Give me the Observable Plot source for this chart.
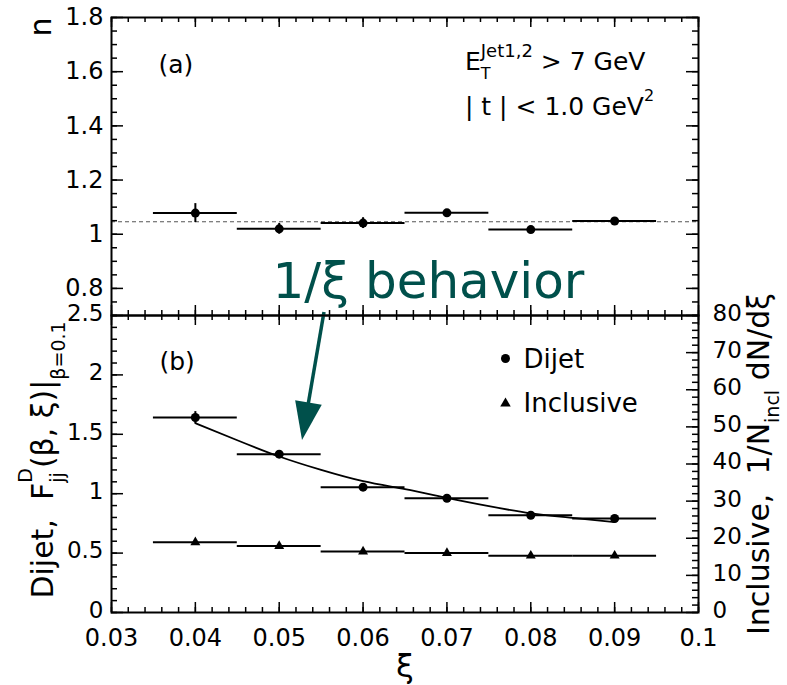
<!DOCTYPE html>
<html>
<head>
<meta charset="utf-8">
<script src="https://cdn.jsdelivr.net/npm/d3@7"></script>
<script src="https://cdn.jsdelivr.net/npm/@observablehq/plot@0.6"></script>
<style>
  body { margin: 0; background: #fff; }
  #wrap { position: relative; width: 787px; height: 685px; overflow: hidden; background: #fff; }
  #wrap svg { position: absolute; left: 0; top: 0; overflow: visible; }
</style>
</head>
<body>
<div id="wrap"></div>
<script>
// ---------------- data ----------------
const xi = [0.04, 0.05, 0.06, 0.07, 0.08, 0.09];
const binHalfWidth = 0.005;
// panel (a): exponent n
const nValues = [1.078, 1.020, 1.041, 1.079, 1.017, 1.049];
const nErrors = [0.035, 0.020, 0.020, 0.012, 0.012, 0.010];
const nMean = 1.046;
// panel (b): dijet F_jj^D (left axis)
const dijet = [1.641, 1.333, 1.055, 0.962, 0.819, 0.791];
const dijetErr = [0.05, 0.03, 0.03, 0.02, 0.02, 0.02];
// panel (b): inclusive 1/N dN/dxi (right axis units)
const inclusive = [18.9, 17.9, 16.4, 16.0, 15.3, 15.3];
// 1/xi-like fit curve
const fitXi = [0.04, 0.045, 0.05, 0.055, 0.06, 0.065, 0.07, 0.075, 0.08, 0.085, 0.09];
const fitF  = [1.594, 1.45, 1.313, 1.20, 1.105, 1.038, 0.965, 0.895, 0.835, 0.797, 0.760];
// axes
const xDomain = [0.03, 0.1];
const xTicks = [0.03, 0.04, 0.05, 0.06, 0.07, 0.08, 0.09, 0.1];
const xTickLabels = ["0.03", "0.04", "0.05", "0.06", "0.07", "0.08", "0.09", "0.1"];
const nDomain = [0.7, 1.8];
const nTicks = [0.8, 1.0, 1.2, 1.4, 1.6, 1.8];
const nTickLabels = ["0.8", "1", "1.2", "1.4", "1.6", "1.8"];
const fDomain = [0, 2.5];
const fTicks = [0, 0.5, 1, 1.5, 2, 2.5];
const fTickLabels = ["0", "0.5", "1", "1.5", "2", "2.5"];
const rightMax = 80;
const rightTicks = [0, 10, 20, 30, 40, 50, 60, 70, 80];
const rightTickLabels = ["0", "10", "20", "30", "40", "50", "60", "70", "80"];
// annotation arrow (data coordinates of panel b)
const arrowFrom = [0.0554, 2.525];
const arrowTo = [0.05278, 1.448];

// ---------------- helpers ----------------
const FONT = "DejaVu Sans";
const TEAL = "#00504b";
const W = 787, mL = 111, mR = 89;
const frameW = W - mL - mR;
const toLeft = v => v * fDomain[1] / rightMax;

const topRows = xi.map((x, i) => ({xi: x, n: nValues[i], e: nErrors[i]}));
const botRows = xi.map((x, i) => ({xi: x, f: dijet[i], e: dijetErr[i], inc: toLeft(inclusive[i])}));
const fitRows = fitXi.map((x, i) => ({xi: x, f: fitF[i]}));

const xMinor = d3.range(15, 51).map(i => +(i * 0.002).toFixed(4));
const nMinor = d3.range(14, 37).map(i => +(i * 0.05).toFixed(3));
const fMinor = d3.range(0, 26).map(i => +(i * 0.1).toFixed(2));
const rMinor = d3.range(0, 41).map(i => i * 2);

function tickMarks(frameH, yMajor, yMinor, rightMajor, rightMinor) {
  const sw = 1.5;
  return [
    Plot.tickX(xTicks, {x: d => d, insetBottom: frameH - 10, strokeWidth: sw}),
    Plot.tickX(xMinor, {x: d => d, insetBottom: frameH - 5, strokeWidth: sw}),
    Plot.tickX(xTicks, {x: d => d, insetTop: frameH - 10, strokeWidth: sw}),
    Plot.tickX(xMinor, {x: d => d, insetTop: frameH - 5, strokeWidth: sw}),
    Plot.tickY(yMajor, {y: d => d, insetRight: frameW - 12, strokeWidth: sw}),
    Plot.tickY(yMinor, {y: d => d, insetRight: frameW - 6, strokeWidth: sw}),
    Plot.tickY(rightMajor, {y: d => d, insetLeft: frameW - 12, strokeWidth: sw}),
    Plot.tickY(rightMinor, {y: d => d, insetLeft: frameW - 6, strokeWidth: sw})
  ];
}

function arrowMark(index, scales) {
  const sx = scales.x, sy = scales.y;
  const x1 = sx(arrowFrom[0]), y1 = sy(arrowFrom[1]);
  const x2 = sx(arrowTo[0]), y2 = sy(arrowTo[1]);
  const dx = x2 - x1, dy = y2 - y1, L = Math.hypot(dx, dy);
  const ux = dx / L, uy = dy / L, px = -uy, py = ux;
  const headLen = 38, headW = 13.5;
  const bx = x2 - ux * headLen, by = y2 - uy * headLen;
  const g = d3.create("svg:g");
  g.append("line").attr("x1", x1).attr("y1", y1).attr("x2", bx + ux * 4).attr("y2", by + uy * 4)
    .attr("stroke", TEAL).attr("stroke-width", 3.5);
  g.append("path")
    .attr("d", `M${x2},${y2}L${bx + px * headW},${by + py * headW}L${bx - px * headW},${by - py * headW}Z`)
    .attr("fill", TEAL);
  return g.node();
}

const wrap = document.getElementById("wrap");

// ---------------- panel (b) (full page svg) ----------------
const botTop = 315, botBottom = 612;
const bottomSvg = Plot.plot({
  width: W, height: 685,
  marginLeft: mL, marginRight: mR, marginTop: botTop, marginBottom: 685 - botBottom,
  x: {domain: xDomain, axis: null},
  y: {domain: fDomain, axis: null},
  style: {fontFamily: FONT, background: "white", overflow: "visible"},
  marks: [
    Plot.ruleY(botRows, {x1: d => d.xi - binHalfWidth, x2: d => d.xi + binHalfWidth, y: "inc", strokeWidth: 2}),
    Plot.ruleY(botRows, {x1: d => d.xi - binHalfWidth, x2: d => d.xi + binHalfWidth, y: "f", strokeWidth: 2}),
    Plot.ruleX(botRows, {x: "xi", y1: d => d.f - d.e, y2: d => d.f + d.e, strokeWidth: 2}),
    Plot.line(fitRows, {x: "xi", y: "f", curve: "natural", strokeWidth: 1.8, stroke: "black"}),
    Plot.dot(botRows, {x: "xi", y: "f", r: 4.5, fill: "black"}),
    Plot.dot(botRows, {x: "xi", y: "inc", r: 3.7, symbol: "triangle", fill: "black"}),
    ...tickMarks(botBottom - botTop, fTicks, fMinor, rightTicks.map(toLeft), rMinor.map(toLeft)),
    Plot.frame({strokeWidth: 2}),
    Plot.text(xTicks, {x: d => d, frameAnchor: "bottom", dy: 26, text: (d, i) => xTickLabels[i], fontSize: 24, lineAnchor: "middle"}),
    Plot.text(fTicks, {y: d => d, frameAnchor: "left", dx: -8, dy: -2, textAnchor: "end", text: (d, i) => fTickLabels[i], fontSize: 23, lineAnchor: "middle"}),
    Plot.text(rightTicks, {y: d => toLeft(d), frameAnchor: "right", dx: 14, dy: -2, textAnchor: "start", text: (d, i) => rightTickLabels[i], fontSize: 23, lineAnchor: "middle"}),
    Plot.text(["ξ"], {frameAnchor: "bottom", dy: 54, fontSize: 32, lineAnchor: "middle"}),
    Plot.text(["(b)"], {frameAnchor: "top-left", dx: 48, dy: 46, textAnchor: "start", fontSize: 25, lineAnchor: "middle"}),
    Plot.dot(["Dijet"], {frameAnchor: "top-left", dx: 394, dy: 43, r: 4.5, fill: "black"}),
    Plot.dot(["Inclusive"], {frameAnchor: "top-left", dx: 394, dy: 88, r: 3.9, symbol: "triangle", fill: "black"}),
    Plot.text(["Dijet"], {frameAnchor: "top-left", dx: 412, dy: 44.5, textAnchor: "start", fontSize: 26, lineAnchor: "middle"}),
    Plot.text(["Inclusive"], {frameAnchor: "top-left", dx: 412, dy: 88.5, textAnchor: "start", fontSize: 26, lineAnchor: "middle"}),
    arrowMark
  ]
});
wrap.appendChild(bottomSvg);

// ---------------- panel (a) (overlay svg) ----------------
const topTop = 17;
const topSvg = Plot.plot({
  width: W, height: 330,
  marginLeft: mL, marginRight: mR, marginTop: topTop, marginBottom: 330 - botTop,
  x: {domain: xDomain, axis: null},
  y: {domain: nDomain, axis: null},
  style: {fontFamily: FONT, background: "transparent", overflow: "visible"},
  marks: [
    Plot.ruleY([nMean], {stroke: "#555", strokeWidth: 1.2, strokeDasharray: "4,3"}),
    Plot.ruleY(topRows, {x1: d => d.xi - binHalfWidth, x2: d => d.xi + binHalfWidth, y: "n", strokeWidth: 2}),
    Plot.ruleX(topRows, {x: "xi", y1: d => d.n - d.e, y2: d => d.n + d.e, strokeWidth: 2}),
    Plot.dot(topRows, {x: "xi", y: "n", r: 4.5, fill: "black"}),
    ...tickMarks(botTop - topTop, nTicks, nMinor, nTicks, nMinor),
    Plot.frame({strokeWidth: 2}),
    Plot.text(nTicks, {y: d => d, frameAnchor: "left", dx: -8, textAnchor: "end", text: (d, i) => nTickLabels[i], fontSize: 24, lineAnchor: "middle"}),
    Plot.text(["n"], {frameAnchor: "top-left", dx: -70, dy: 0, rotate: -90, textAnchor: "end", fontSize: 30, lineAnchor: "middle"}),
    Plot.text(["(a)"], {frameAnchor: "top-left", dx: 47, dy: 47, textAnchor: "start", fontSize: 25, lineAnchor: "middle"}),
    Plot.text(["1/ξ behavior"], {frameAnchor: "top-left", dx: 161, dy: 264, textAnchor: "start", fontSize: 50, lineAnchor: "middle", fill: TEAL})
  ]
});
wrap.appendChild(topSvg);

// ---------------- rich text labels (super/subscripts) ----------------
function richText(svg, {x, y, rotate = 0, anchor = "start", size, parts}) {
  const t = d3.select(svg).append("text")
    .attr("transform", `translate(${x},${y}) rotate(${rotate})`)
    .attr("text-anchor", anchor)
    .attr("font-family", FONT)
    .attr("font-size", size)
    .attr("fill", "black")
    .style("white-space", "pre");
  let cur = 0, prevLen = 0;
  for (const p of parts) {
    const ts = t.append("tspan").text(p.t);
    if (p.size) ts.attr("font-size", p.size);
    const shift = p.shift || 0;
    ts.attr("dy", shift - cur);
    cur = shift;
    if (p.back) ts.attr("dx", -prevLen);
    prevLen = ts.node().getComputedTextLength();
  }
  return t;
}

richText(topSvg, {x: 465, y: 70, size: 25, parts: [
  {t: "E"},
  {t: "T", size: 16, shift: 9},
  {t: "Jet1,2", size: 18, shift: -13, back: true},
  {t: " > 7 GeV", shift: 0}
]});
richText(topSvg, {x: 465, y: 115, size: 25, parts: [
  {t: "| t | < 1.0 GeV"},
  {t: "2", size: 16, shift: -14}
]});
richText(bottomSvg, {x: 53, y: 460, rotate: -90, anchor: "middle", size: 30, parts: [
  {t: "Dijet,  F"},
  {t: "jj", size: 19, shift: 11},
  {t: "D", size: 19, shift: -21, back: true},
  {t: "(β, ξ)|", shift: 0},
  {t: "β=0.1", size: 19, shift: 12}
]});
richText(bottomSvg, {x: 769, y: 464, rotate: -90, anchor: "middle", size: 30, parts: [
  {t: "Inclusive,  1/N"},
  {t: "incl", size: 19, shift: 10},
  {t: " dN/dξ", shift: 0}
]});
</script>
</body>
</html>
